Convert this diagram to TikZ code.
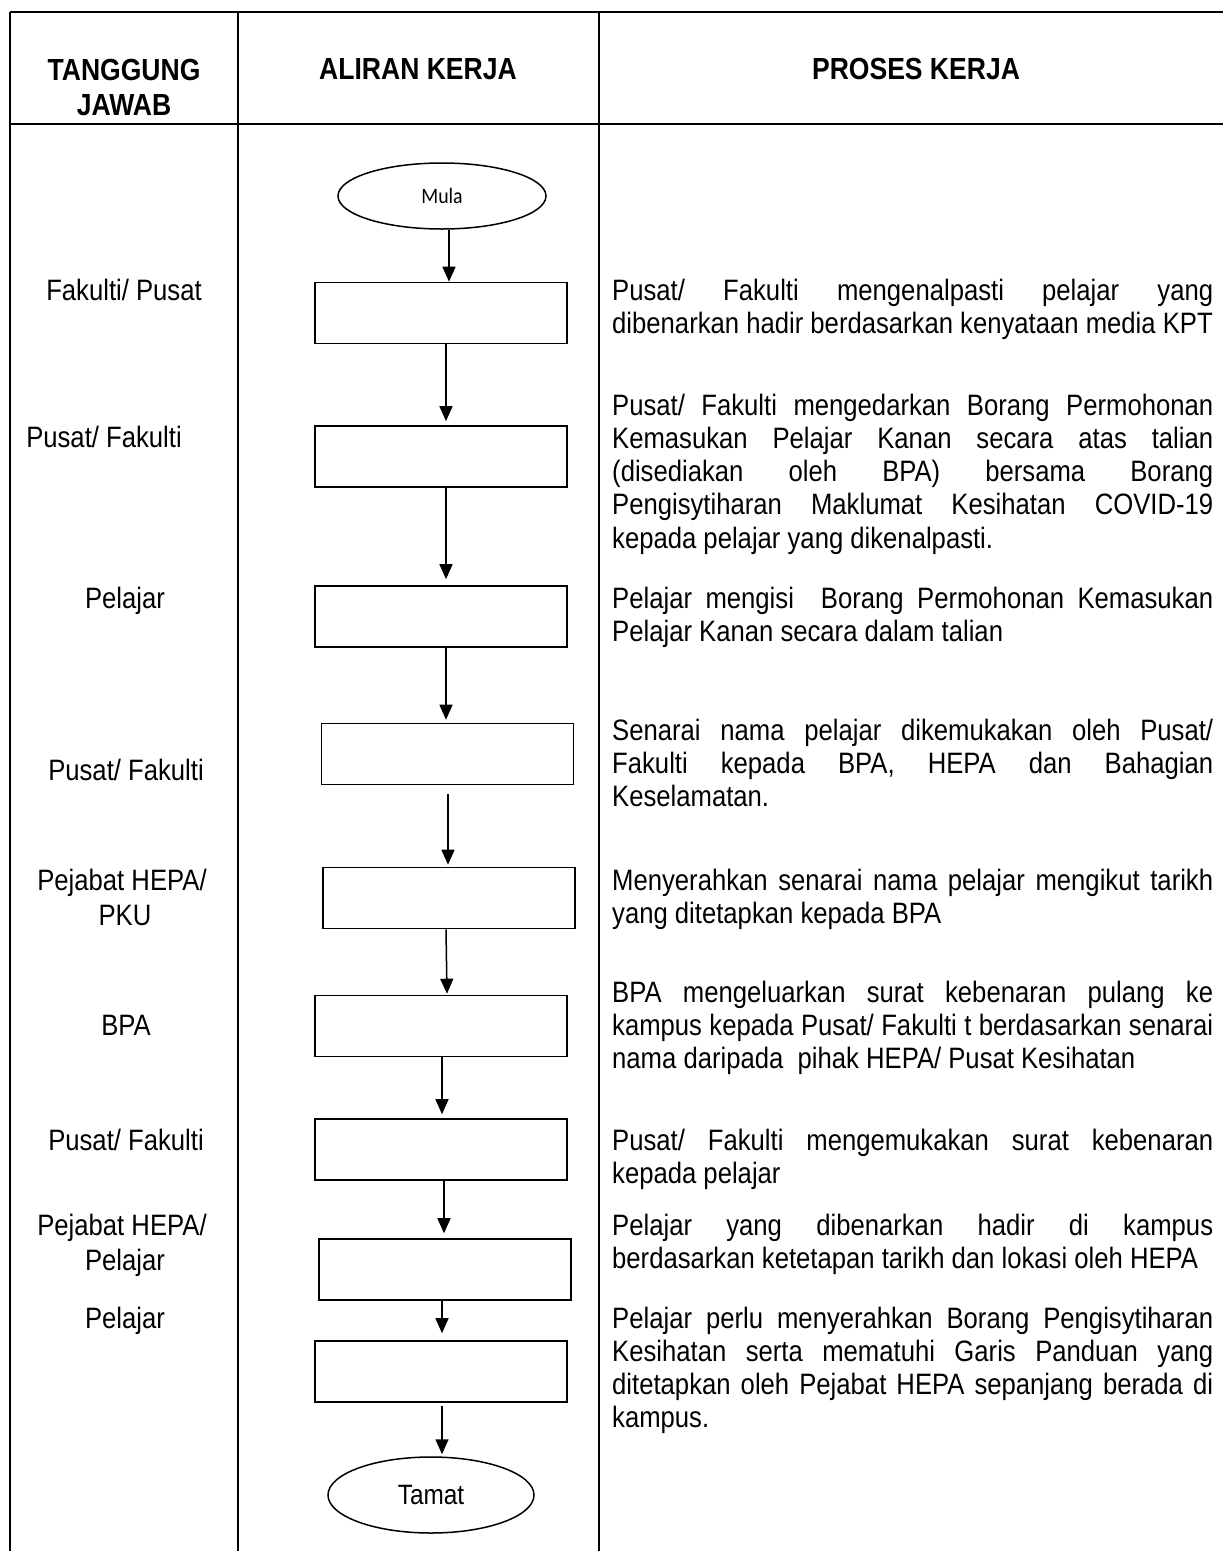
\documentclass[tikz,border=0pt]{standalone}
\usepackage{fontspec}
\setmainfont{Liberation Sans}[FakeStretch=0.87]
\newfontfamily\mulafont{Carlito}[FakeStretch=0.9]
\usetikzlibrary{arrows.meta,shapes.geometric}
\tolerance=10000
\hyphenpenalty=10000
\exhyphenpenalty=10000
\begin{document}
\begin{tikzpicture}[x=1pt,y=-1pt,
  tline/.style={line width=1.8pt},
  stepbox/.style={draw, rectangle, line width=1.6pt, minimum width=252pt, minimum height=61pt, inner sep=0pt},
  term/.style={draw, ellipse, line width=1.5pt, inner sep=0pt},
  arr/.style={line width=1.5pt, -{Triangle[width=13pt,length=15pt]}},
  head/.style={font=\fontsize{30.5}{34}\selectfont\bfseries, anchor=base, inner sep=0pt},
  resp/.style={font=\fontsize{29.5}{33.3}\selectfont, anchor=base, inner sep=0pt},
  proc/.style={font=\fontsize{29.5}{33.3}\selectfont, anchor=base west, inner sep=0pt, text width=601pt, align=justify}]
\useasboundingbox (0,0) rectangle (1223,1551);
\fill[white] (0,0) rectangle (1223,1551);
% table
\draw[tline] (10,12) -- (1223,12);
\draw[tline] (10,124) -- (1223,124);
\draw[tline] (10,12) -- (10,1551);
\draw[tline] (238,12) -- (238,1551);
\draw[tline] (599,12) -- (599,1551);
% headers
\node[head] (h1a) at (124,80) {TANGGUNG};
\node[head] (h1b) at (124,115) {JAWAB};
\node[head] (h2) at (418,79) {ALIRAN KERJA};
\node[head] (h3) at (916,79) {PROSES KERJA};
% flow
\node[term, minimum width=208pt, minimum height=66pt] (mula) at (442,196) {\mulafont\fontsize{22}{25}\selectfont Mula};
\node[stepbox] (b1) at (441,313) {};
\node[stepbox] (b2) at (441,456.5) {};
\node[stepbox] (b3) at (441,616.5) {};
\node[stepbox] (b4) at (447.5,754) {};
\node[stepbox] (b5) at (449,898) {};
\node[stepbox] (b6) at (441,1026) {};
\node[stepbox] (b7) at (441,1149.5) {};
\node[stepbox] (b8) at (445,1269.5) {};
\node[stepbox] (b9) at (441,1371.5) {};
\node[term, minimum width=206pt, minimum height=76pt] (tamat) at (431,1495) {\fontsize{28}{32}\selectfont Tamat};
\draw[arr] ([xshift=7pt]mula.south) -- ([xshift=8pt]b1.north);
\draw[arr] ([xshift=5pt]b1.south) -- ([xshift=5pt,yshift=4pt]b2.north);
\draw[arr] ([xshift=5pt]b2.south) -- ([xshift=5pt,yshift=6pt]b3.north);
\draw[arr] ([xshift=5pt]b3.south) -- ([xshift=-1.5pt,yshift=3pt]b4.north);
\draw[arr] ([xshift=0.5pt,yshift=-9pt]b4.south) -- ([xshift=-1pt,yshift=2pt]b5.north);
\draw[arr] ([xshift=-3pt]b5.south) -- ([xshift=6pt,yshift=1pt]b6.north);
\draw[arr] ([xshift=1pt]b6.south) -- ([xshift=1pt,yshift=4pt]b7.north);
\draw[arr] ([xshift=3pt]b7.south) -- ([xshift=-1pt,yshift=5pt]b8.north);
\draw[arr] ([xshift=-3pt]b8.south) -- ([xshift=1pt,yshift=7pt]b9.north);
\draw[arr] ([xshift=1pt,yshift=-3pt]b9.south) -- ([xshift=11pt,yshift=2pt]tamat.north);
% responsibility
\node[resp] (r1) at (124,300) {Fakulti/ Pusat};
\node[resp] (r2) at (104,447) {Pusat/ Fakulti};
\node[resp] (r3) at (125,608) {Pelajar};
\node[resp] (r4) at (126,780) {Pusat/ Fakulti};
\node[resp] (r5a) at (122,890) {Pejabat HEPA/};
\node[resp] (r5b) at (125,925) {PKU};
\node[resp] (r6) at (126,1035) {BPA};
\node[resp] (r7) at (126,1150) {Pusat/ Fakulti};
\node[resp] (r8a) at (122,1235) {Pejabat HEPA/};
\node[resp] (r8b) at (125,1270) {Pelajar};
\node[resp] (r9) at (125,1328) {Pelajar};
% process
\node[proc] (p1) at (612,300) {Pusat/ Fakulti mengenalpasti pelajar yang\linebreak dibenarkan hadir berdasarkan kenyataan media KPT};
\node[proc] (p2) at (612,415) {Pusat/ Fakulti mengedarkan Borang Permohonan\linebreak Kemasukan Pelajar Kanan secara atas talian\linebreak (disediakan oleh BPA) bersama Borang\linebreak Pengisytiharan Maklumat Kesihatan COVID-19\linebreak kepada pelajar yang dikenalpasti.};
\node[proc] (p3) at (612,608) {Pelajar mengisi\ \ Borang Permohonan Kemasukan\linebreak Pelajar Kanan secara dalam talian};
\node[proc] (p4) at (612,740) {Senarai nama pelajar dikemukakan oleh Pusat/\linebreak Fakulti kepada BPA, HEPA dan Bahagian\linebreak Keselamatan.};
\node[proc] (p5) at (612,890) {Menyerahkan senarai nama pelajar mengikut tarikh\linebreak yang ditetapkan kepada BPA};
\node[proc] (p6) at (612,1002) {BPA mengeluarkan surat kebenaran pulang ke\linebreak kampus kepada Pusat/ Fakulti t berdasarkan senarai\linebreak nama daripada\ \ pihak HEPA/ Pusat Kesihatan};
\node[proc] (p7) at (612,1150) {Pusat/ Fakulti mengemukakan surat kebenaran\linebreak kepada pelajar};
\node[proc] (p8) at (612,1235) {Pelajar yang dibenarkan hadir di kampus\linebreak berdasarkan ketetapan tarikh dan lokasi oleh HEPA};
\node[proc] (p9) at (612,1328) {Pelajar perlu menyerahkan Borang Pengisytiharan\linebreak Kesihatan serta mematuhi Garis Panduan yang\linebreak ditetapkan oleh Pejabat HEPA sepanjang berada di\linebreak kampus.};
\end{tikzpicture}
\end{document}
